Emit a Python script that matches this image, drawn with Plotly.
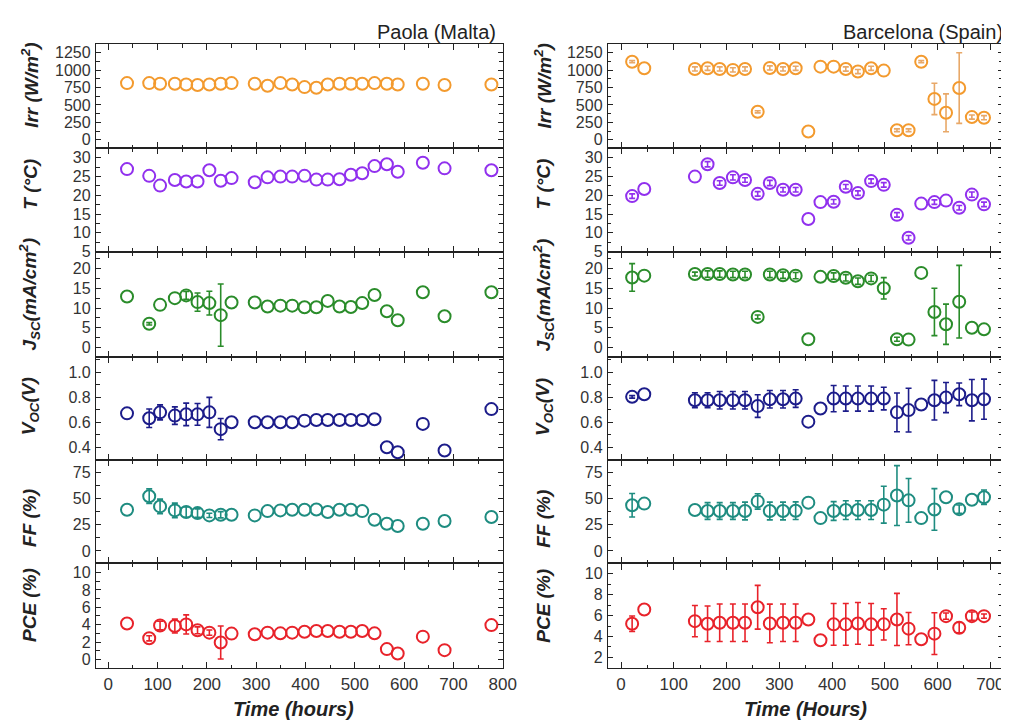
import plotly.graph_objects as go

# ---------------- data ----------------
paola_time = [38, 83, 105, 135, 158, 181, 205, 228, 250, 297, 323, 349, 373, 398, 422,
              445, 469, 492, 515, 540, 565, 587, 638, 682, 777]
paola_irr = [814, 814, 805, 805, 795, 786, 795, 805, 814, 805, 776, 814, 795, 757, 748,
             795, 805, 805, 805, 814, 805, 795, 805, 786, 795]
paola_irr_err = [0] * 25
paola_t = [27.0, 25.2, 22.6, 24.1, 23.7, 23.7, 26.7, 23.9, 24.6, 23.5, 24.8, 25.0, 25.0,
           25.2, 24.2, 24.2, 24.3, 25.5, 25.9, 27.8, 28.3, 26.3, 28.7, 27.2, 26.7]
paola_t_err = [0] * 25
paola_jsc = [12.9, 6.0, 10.8, 12.5, 13.2, 11.5, 11.25, 8.2, 11.4, 11.4, 10.4, 10.6, 10.6,
             10.2, 10.2, 11.8, 10.4, 10.25, 11.25, 13.3, 9.2, 6.9, 14.0, 7.9, 14.0]
paola_jsc_err = [0, 0.3, 0, 0, 1.0, 2.3, 3.0, 7.9, 0, 0, 0, 0, 0, 0, 0, 0, 0, 0, 0, 0, 0, 0, 0, 0, 0]
paola_voc = [0.671, 0.632, 0.679, 0.653, 0.663, 0.663, 0.679, 0.545, 0.600, 0.600, 0.600,
             0.600, 0.600, 0.613, 0.618, 0.618, 0.618, 0.618, 0.618, 0.624, 0.400, 0.360,
             0.587, 0.374, 0.705]
paola_voc_err = [0, 0.074, 0.06, 0.07, 0.09, 0.087, 0.12, 0.085, 0, 0, 0, 0, 0, 0, 0, 0, 0,
                 0, 0, 0, 0, 0, 0, 0, 0]
paola_ff = [39.5, 52.5, 42.7, 38.9, 37.3, 36.3, 34.1, 34.7, 34.7, 34.1, 38.2, 38.9, 39.5,
            39.5, 39.8, 37.3, 39.5, 39.5, 38.2, 29.9, 26.1, 23.9, 26.1, 28.7, 32.5]
paola_ff_err = [0, 7, 7, 7, 5, 4, 2, 3, 0, 0, 0, 0, 0, 0, 0, 0, 0, 0, 0, 0, 0, 0, 0, 0, 0]
paola_pce = [4.14, 2.43, 3.90, 3.84, 4.03, 3.35, 3.08, 1.94, 2.97, 2.89, 3.08, 3.00, 3.08,
             3.19, 3.27, 3.27, 3.19, 3.19, 3.27, 3.00, 1.18, 0.68, 2.62, 1.06, 3.95]
paola_pce_err = [0, 0.3, 0.5, 0.8, 1.1, 0.4, 0.3, 1.9, 0, 0, 0, 0, 0, 0, 0, 0, 0, 0, 0, 0,
                 0, 0, 0, 0, 0]

barca_time = [21, 44, 140, 164, 187, 212, 235, 259, 282, 307, 331, 355, 378, 403, 426,
              449, 474, 498, 523, 545, 569, 594, 616, 641, 665, 688]
barca_irr = [1122, 1027, 1018, 1027, 1018, 1004, 1018, 402, 1032, 1018, 1027, 118, 1051,
             1051, 1017, 980, 1027, 994, 137, 137, 1122, 587, 388, 743, 326, 317]
barca_irr_err = [15, 0, 30, 30, 30, 30, 30, 15, 30, 30, 30, 0, 0, 0, 30, 30, 30, 0, 20,
                 20, 15, 225, 272, 507, 30, 30]
barca_t = [19.8, 21.7, 25.0, 28.3, 23.3, 24.8, 24.1, 20.4, 23.3, 21.5, 21.5, 13.7, 18.2,
           18.3, 22.3, 20.6, 23.8, 22.8, 14.8, 8.7, 17.8, 18.2, 18.6, 16.7, 20.2, 17.6]
barca_t_err = [0.6, 0, 0, 0.7, 0.6, 0.7, 0.6, 0.6, 0.7, 0.6, 0.6, 0, 0, 0.6, 0.6, 0.6,
               0.6, 0.6, 0.6, 0.6, 0, 0.6, 0, 0.6, 0.7, 0.6]
barca_jsc = [17.75, 18.2, 18.6, 18.6, 18.6, 18.5, 18.5, 7.75, 18.5, 18.3, 18.2, 2.1, 17.9,
             18.1, 17.65, 16.8, 17.5, 15.0, 2.1, 2.0, 18.9, 9.0, 5.9, 11.6, 5.0, 4.6]
barca_jsc_err = [3.5, 0, 0.5, 0.8, 0.8, 0.8, 0.8, 0.5, 0.8, 0.8, 0.8, 0, 0, 0.8, 0.8,
                 0.8, 0.8, 2.7, 0.5, 0, 0, 6.0, 5.1, 9.2, 0, 0]
barca_voc = [0.803, 0.824, 0.776, 0.776, 0.776, 0.776, 0.776, 0.729, 0.784, 0.784, 0.789,
             0.605, 0.710, 0.789, 0.789, 0.789, 0.789, 0.789, 0.679, 0.697, 0.742, 0.776,
             0.797, 0.823, 0.776, 0.784]
barca_voc_err = [0.01, 0, 0.06, 0.06, 0.07, 0.07, 0.07, 0.09, 0.07, 0.07, 0.07, 0, 0,
                 0.105, 0.1, 0.1, 0.1, 0.09, 0.155, 0.175, 0, 0.158, 0.12, 0.09, 0.165, 0.16]
barca_ff = [43.8, 45.4, 39.2, 38.3, 38.3, 38.3, 38.3, 47.5, 38.3, 38.3, 38.6, 46.3, 31.5,
            38.3, 39.2, 39.2, 39.2, 44.4, 53.1, 48.5, 31.5, 39.8, 51.5, 40.1, 49.1, 51.5]
barca_ff_err = [11.3, 0, 0, 8, 8, 8, 8.5, 7.4, 8.5, 8.5, 8.5, 0, 0, 9, 9, 9, 9, 17.7,
                28.7, 21, 0, 20, 0, 4, 0, 7]
barca_pce = [5.22, 6.58, 5.47, 5.22, 5.32, 5.32, 5.32, 6.80, 5.25, 5.32, 5.32, 5.63, 3.64,
             5.16, 5.16, 5.25, 5.16, 5.16, 5.63, 4.75, 3.73, 4.27, 5.95, 4.84, 5.95, 5.95]
barca_pce_err = [0.74, 0, 1.5, 1.7, 1.8, 1.8, 1.8, 2.1, 1.85, 1.8, 1.8, 0, 0, 2, 2, 2, 2,
                 1.5, 2.5, 1.55, 0, 2, 0.3, 0.5, 0.4, 0.2]

# ---------------- styling ----------------
W, H = 1009, 720
FONT = "Liberation Sans, Arial, sans-serif"
AXC = "#222222"

row_bounds = [36.7, 141.7, 246.7, 353.3, 457.3, 561.7, 667.7]   # px from top
col_px = [(89.2, 501.7), (608.3, 1009.0)]
x_ranges = [[-25, 800], [-25, 724]]

rows = [
    dict(color="#F39A2E", ecolor="#E8A868", dtick=250, minor=125,
         ranges=[[-120, 1372], [-120, 1372]], fmt=None),
    dict(color="#9130EE", ecolor="#9130EE", dtick=5, minor=2.5,
         ranges=[[4.9, 32.6], [4.9, 32.6]], fmt=None),
    dict(color="#2A8C2A", ecolor="#2A8C2A", dtick=5, minor=2.5,
         ranges=[[-2.5, 24.2], [-2.5, 24.2]], fmt=None),
    dict(color="#1C1C8A", ecolor="#1C1C8A", dtick=0.2, minor=0.1,
         ranges=[[0.297, 1.118], [0.297, 1.118]], fmt=".1f"),
    dict(color="#1E8C80", ecolor="#1E8C80", dtick=25, minor=12.5,
         ranges=[[-12, 87], [-12, 87]], fmt=None),
    dict(color="#E8222A", ecolor="#E8222A", dtick=2, minor=1,
         ranges=[[-1.03, 11.06], [0.95, 11.0]], fmt=None),
]

series = {
    0: [(paola_irr, paola_irr_err), (paola_t, paola_t_err), (paola_jsc, paola_jsc_err),
        (paola_voc, paola_voc_err), (paola_ff, paola_ff_err), (paola_pce, paola_pce_err)],
    1: [(barca_irr, barca_irr_err), (barca_t, barca_t_err), (barca_jsc, barca_jsc_err),
        (barca_voc, barca_voc_err), (barca_ff, barca_ff_err), (barca_pce, barca_pce_err)],
}
times = {0: paola_time, 1: barca_time}

fig = go.Figure()
layout_axes = {}

for r, rw in enumerate(rows):
    for c in range(2):
        k = r * 2 + c + 1
        xs = "" if k == 1 else str(k)
        vals, errs = series[c][r]
        t = times[c]
        t0 = [ti for ti, e in zip(t, errs) if e == 0]
        v0 = [vi for vi, e in zip(vals, errs) if e == 0]
        t1 = [ti for ti, e in zip(t, errs) if e != 0]
        v1 = [vi for vi, e in zip(vals, errs) if e != 0]
        e1 = [e for e in errs if e != 0]
        mk = dict(symbol="circle-open", size=12, color=rw["color"],
                  line=dict(width=2, color=rw["color"]))
        fig.add_trace(go.Scatter(x=t0, y=v0, mode="markers", marker=mk,
                                 xaxis="x" + xs, yaxis="y" + xs, showlegend=False,
                                 cliponaxis=False))
        if t1:
            fig.add_trace(go.Scatter(
                x=t1, y=v1, mode="markers", marker=mk,
                error_y=dict(type="data", array=e1, visible=True, color=rw["ecolor"],
                             thickness=1.6, width=3),
                xaxis="x" + xs, yaxis="y" + xs, showlegend=False, cliponaxis=False))
        x0, x1 = col_px[c]
        ytop, ybot = row_bounds[r], row_bounds[r + 1]
        layout_axes["xaxis" + xs] = dict(
            domain=[x0 / W, x1 / W], anchor="y" + xs, range=x_ranges[c],
            showline=True, linecolor=AXC, linewidth=1.2, mirror="ticks",
            ticks="inside", ticklen=6, tickwidth=1.3, tickcolor=AXC,
            dtick=100, tick0=0, showgrid=False, zeroline=False,
            showticklabels=(r == 5),
            tickfont=dict(family=FONT, size=17, color="#333333"),
            minor=dict(dtick=50, ticks="inside", ticklen=3.5, tickcolor=AXC, showgrid=False))
        layout_axes["yaxis" + xs] = dict(
            domain=[1 - ybot / H, 1 - ytop / H], anchor="x" + xs, range=rw["ranges"][c],
            showline=True, linecolor=AXC, linewidth=1.2, mirror="ticks",
            ticks="inside", ticklen=5, tickwidth=1.3, tickcolor=AXC,
            dtick=rw["dtick"], tick0=0, showgrid=False, zeroline=False,
            tickformat=rw["fmt"], ticklabelstandoff=1,
            tickfont=dict(family=FONT, size=16, color="#333333"),
            minor=dict(dtick=rw["minor"], ticks="inside", ticklen=3.5, tickcolor=AXC,
                       showgrid=False))

fig.update_layout(**layout_axes)

# ---------------- annotations ----------------
ytitles = [
    ("<b><i>Irr (W/m<sup>2</sup>)</i></b>", 78),
    ("<b><i>T (°C)</i></b>", 178),
    ("<b><i>J<sub>SC</sub>(mA/cm<sup>2</sup>)</i></b>", 290),
    ("<b><i>V<sub>OC</sub>(V)</i></b>", 403),
    ("<b><i>FF (%)</i></b>", 516),
    ("<b><i>PCE (%)</i></b>", 604),
]
anns = []
for txt, yc in ytitles:
    for xc in (22, 543):
        anns.append(dict(text=txt, x=xc / W, y=1 - yc / H, xref="paper", yref="paper",
                         xanchor="center", yanchor="middle", textangle=-90, showarrow=False,
                         font=dict(family=FONT, size=19, color="#222222")))

anns.append(dict(text="<b><i>Time (hours)</i></b>", x=290 / W, y=1 - 709 / H,
                 xref="paper", yref="paper", xanchor="center", yanchor="middle",
                 showarrow=False, font=dict(family=FONT, size=20, color="#222222")))
anns.append(dict(text="<b><i>Time (Hours)</i></b>", x=809 / W, y=1 - 709 / H,
                 xref="paper", yref="paper", xanchor="center", yanchor="middle",
                 showarrow=False, font=dict(family=FONT, size=20, color="#222222")))
anns.append(dict(text="Paola (Malta)", x=497 / W, y=1 - 24.5 / H, xref="paper",
                 yref="paper", xanchor="right", yanchor="middle", showarrow=False,
                 font=dict(family=FONT, size=20, color="#222222")))
anns.append(dict(text="Barcelona (Spain)", x=845 / W, y=1 - 24.5 / H, xref="paper",
                 yref="paper", xanchor="left", yanchor="middle", showarrow=False,
                 font=dict(family=FONT, size=20, color="#222222")))

fig.update_layout(
    width=W, height=H, margin=dict(l=0, r=0, t=0, b=0),
    paper_bgcolor="white", plot_bgcolor="white",
    annotations=anns, showlegend=False,
    font=dict(family=FONT),
)

fig.write_html("out.html")
